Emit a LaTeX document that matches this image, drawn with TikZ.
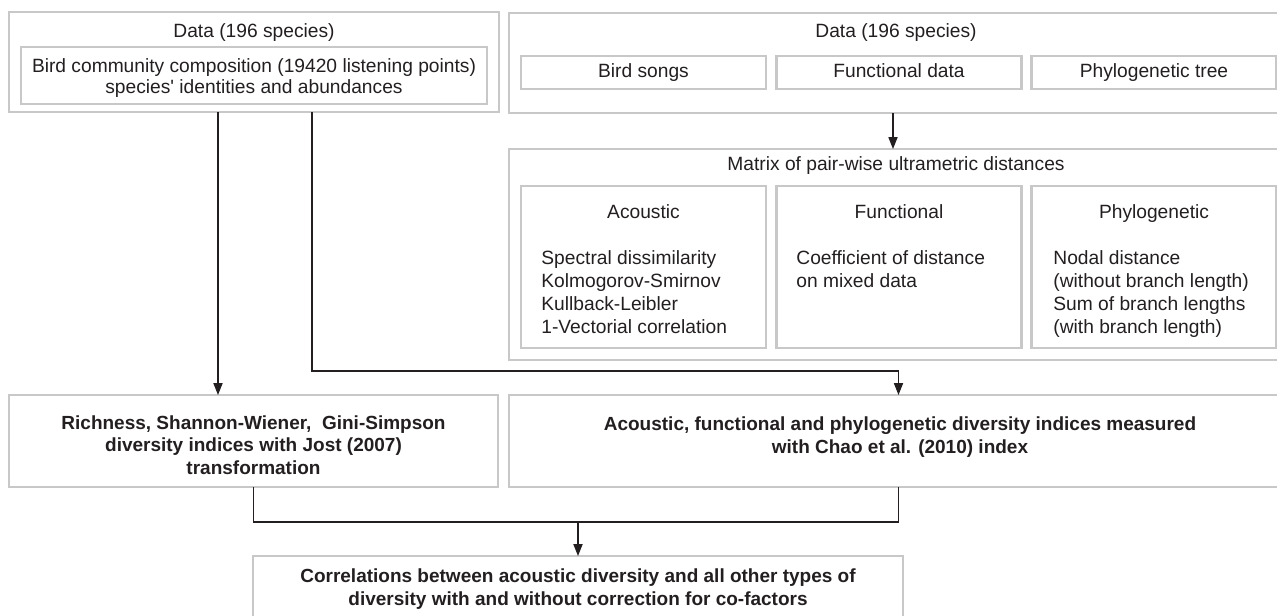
\documentclass[tikz,border=0pt]{standalone}
\usepackage{fontspec}
\setmainfont{Liberation Sans}
\usepackage{xcolor}
\definecolor{boxgray}{RGB}{200,200,200}
\definecolor{ink}{RGB}{35,31,32}
\usetikzlibrary{arrows.meta}

\tikzset{
  box/.style={draw=boxgray, line width=1.25pt, inner sep=0pt, outer sep=0pt},
  txt/.style={inner sep=0pt, text=ink, font=\fontsize{9.6}{11.5}\selectfont},
  bold/.style={inner sep=0pt, text=ink, font=\fontsize{9.5}{11.25}\selectfont\bfseries},
  oneline/.style={text height=7pt, text depth=2pt},
  link/.style={draw=ink, line width=0.6pt},
  arr/.style={link, -{Triangle[length=6pt,width=4.6pt]}}
}

\begin{document}
\begin{tikzpicture}[x=0.5pt, y=-0.5pt]% 1 unit = 1 px of the scan
  \useasboundingbox (0,0) rectangle (1277,615);
  % data boxes
  \node[box, minimum width=245pt, minimum height=50pt] (dataL) at (254,62) {};
  \node[box, minimum width=233pt, minimum height=28.5pt] (community) at (254,75.5) {};
  \node[txt, anchor=base] (dataLtitle) at (254,38) {Data (196 species)};
  \node[txt, align=center, anchor=base, font=\fontsize{9.6}{10.5}\selectfont] (communityText) at (254,94)
    {Bird community composition (19420 listening points)\\species\textquotesingle\ identities and abundances};
  \node[box, minimum width=389.5pt, minimum height=50pt] (dataR) at (898.5,63) {};
  \node[txt, anchor=base] (dataRtitle) at (896,38) {Data (196 species)};
  \node[box, txt, oneline, minimum width=122.5pt, minimum height=16.5pt] (songs) at (643.5,72.5) {Bird songs};
  \node[box, txt, oneline, minimum width=122.5pt, minimum height=16.5pt] (funcData) at (899,72.5) {Functional data};
  \node[box, txt, oneline, minimum width=122.5pt, minimum height=16.5pt] (phyloTree) at (1154,72.5) {Phylogenetic tree};
  % distance matrices
  \node[box, minimum width=389.5pt, minimum height=105.5pt] (matrix) at (898.5,254.5) {};
  \node[txt, anchor=base] (matrixTitle) at (896,170) {Matrix of pair-wise ultrametric distances};
  \node[box, minimum width=122.5pt, minimum height=81pt] (acoBox) at (643.5,267) {};
  \node[box, minimum width=122.5pt, minimum height=81pt] (funcBox) at (899,267) {};
  \node[box, minimum width=122.5pt, minimum height=81pt] (phyloBox) at (1154,267) {};
  \node[txt, anchor=base] (acoTitle) at (643.5,218) {Acoustic};
  \node[txt, anchor=base] (funcTitle) at (899,218) {Functional};
  \node[txt, anchor=base] (phyloTitle) at (1154,218) {Phylogenetic};
  \node[txt, align=left, anchor=base west] (acoList) at (541,333)
    {Spectral dissimilarity\\Kolmogorov-Smirnov\\Kullback-Leibler\\1-Vectorial correlation};
  \node[txt, align=left, anchor=base west] (funcList) at (796,287)
    {Coefficient of distance\\on mixed data};
  \node[txt, align=left, anchor=base west] (phyloList) at (1053,333)
    {Nodal distance\\(without branch length)\\Sum of branch lengths\\(with branch length)};
  % diversity indices
  \node[box, minimum width=244.5pt, minimum height=46pt] (richBox) at (253.5,441) {};
  \node[bold, align=center, anchor=base] (richText) at (253.5,474)
    {Richness, Shannon-Wiener,\ \ Gini-Simpson\\diversity indices with Jost (2007)\\transformation};
  \node[box, minimum width=389.5pt, minimum height=46pt] (chaoBox) at (898.5,441) {};
  \node[bold, align=center, anchor=base] (chaoText) at (900,453)
    {Acoustic, functional and phylogenetic diversity indices measured\\with Chao et al. (2010) index};
  \node[box, minimum width=325pt, minimum height=42pt] (corrBox) at (578,598) {};
  \node[bold, align=center, anchor=base] (corrText) at (578,605)
    {Correlations between acoustic diversity and all other types of\\diversity with and without correction for co-factors};
  % connectors
  \draw[arr] ([xshift=-2.75pt]dataR.south) coordinate (matIn) -- (matIn |- matrix.north);
  \draw[arr] ([xshift=-18pt]dataL.south) coordinate (richIn) -- (richIn |- richBox.north);
  \draw[arr] ([xshift=29pt]dataL.south) -- ++(0,259) -| (chaoBox.north);
  \draw[link] (richBox.south) -- ++(0,35) coordinate (join) -| (chaoBox.south);
  \draw[arr] (join -| corrBox.north) -- (corrBox.north);
\end{tikzpicture}
\end{document}
